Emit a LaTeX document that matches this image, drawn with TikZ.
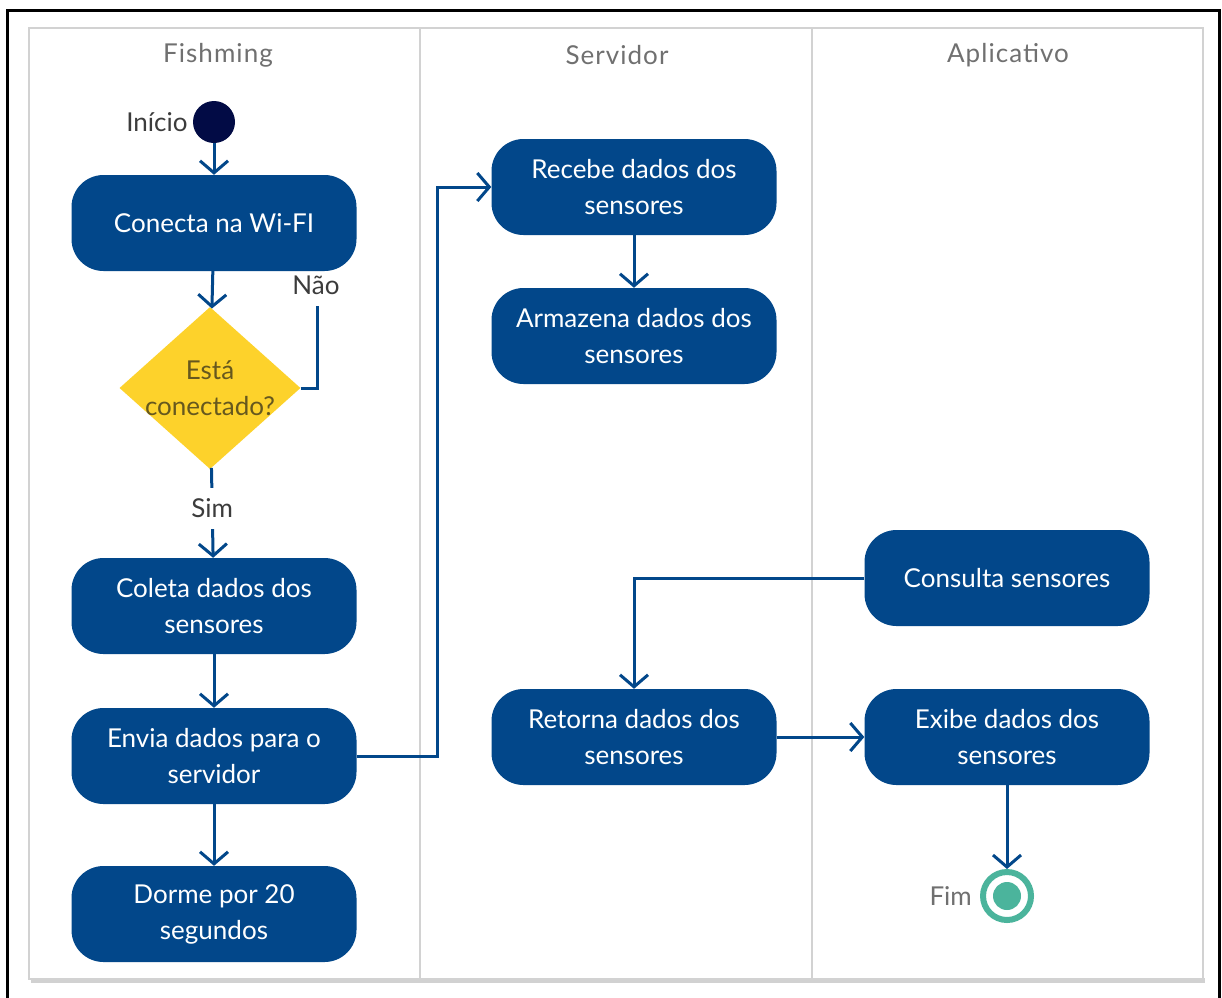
\documentclass[tikz,border=0pt]{standalone}
\usepackage{fontspec}
\setmainfont{Lato}
\newfontfamily\lanefont[LetterSpace=4]{Lato}
\usetikzlibrary{arrows.meta,shapes.geometric}
\definecolor{actblue}{HTML}{02478A}
\definecolor{decyellow}{HTML}{FDD22B}
\definecolor{dectext}{HTML}{66581E}
\definecolor{startnavy}{HTML}{020B45}
\definecolor{endgreen}{HTML}{4BB49C}
\definecolor{lanegray}{HTML}{707070}
\definecolor{notegray}{HTML}{3C3C3C}
\definecolor{boxgray}{HTML}{D2D2D2}
\begin{document}
\begin{tikzpicture}[x=1pt,y=-1pt,
  act/.style={rectangle, rounded corners=32pt, fill=actblue, text=white,
    minimum width=285pt, minimum height=96pt, inner sep=0pt, align=center,
    font=\fontsize{26}{36}\selectfont},
  flow/.style={draw=actblue, line width=3pt, -{Straight Barb[length=12pt,width=28pt]}},
  plainline/.style={draw=actblue, line width=3pt},
  lanetitle/.style={font=\lanefont\fontsize{26}{30}\selectfont, text=lanegray},
  note/.style={font=\fontsize{26}{30}\selectfont, text=notegray, inner sep=2pt}]
\useasboundingbox (0,0) rectangle (1222,997);
% outer frame, running past the lower edge
\begin{scope}
  \clip (0,0) rectangle (1222,997);
  \draw[line width=3pt] (7,1020) -- (7,10) -- (1219,10) -- (1219,1020);
\end{scope}
% swimlane box with soft shadow
\fill[black!18] (31,978) rectangle (1205,983);
\draw[draw=boxgray, fill=white, line width=1.2pt] (29,28) rectangle (1203,979);
\draw[draw=boxgray, line width=1.2pt] (420,28) -- (420,979);
\draw[draw=boxgray, line width=1.2pt] (812,28) -- (812,979);
\node[lanetitle] (laneA) at (218,55) {Fishming};
\node[lanetitle] (laneB) at (617,55) {Servidor};
\node[lanetitle] (laneC) at (1008,55) {Aplicativo};

% Fishming lane
\node[circle, fill=startnavy, minimum size=42pt, inner sep=0pt] (start) at (214,122) {};
\node[note, anchor=east] (inicio) at ([xshift=-3pt]start.west) {Início};
\node[act] (wifi) at (214,223) {Conecta na Wi-FI};
\node[diamond, fill=decyellow, minimum width=181pt, minimum height=162pt,
      inner sep=0pt] (dec) at (210,388) {};
\node[align=center, text=dectext, font=\fontsize{26}{36}\selectfont] (dectxt) at (dec) {Está\\conectado?};
\coordinate (naoend) at (317,306);
\node[note] (nao) at (316,285) {Não};
\node[act] (coleta) at (214,606) {Coleta dados dos\\sensores};
\node[act] (envia) at (214,756) {Envia dados para o\\servidor};
\node[act] (dorme) at (214,914) {Dorme por 20\\segundos};

% Servidor lane
\node[act] (recebe) at (634,187) {Recebe dados dos\\sensores};
\node[act] (armazena) at (634,336) {Armazena dados dos\\sensores};
\node[act] (retorna) at (634,737) {Retorna dados dos\\sensores};

% Aplicativo lane
\node[act] (consulta) at (1007,578) {Consulta sensores};
\node[act] (exibe) at (1007,737) {Exibe dados dos\\sensores};
\node[circle, draw=endgreen, line width=6pt, fill=white, minimum size=48pt, inner sep=0pt] (fim) at (1007,896) {};
\fill[endgreen] (fim) circle (14pt);
\node[note, text=lanegray, anchor=east] (fimtxt) at ([xshift=-6pt]fim.west) {Fim};

% control flow
\draw[flow] (start) -- (wifi);
\draw[flow] (wifi) -- (dec);
\draw[plainline] (dec.east) -| (naoend);
\draw[flow] (dec) -- node[pos=0.45, fill=white, note, inner ysep=11pt] (sim) {Sim} (coleta);
\draw[flow] (coleta) -- (envia);
\draw[flow] (envia) -- (dorme);
\draw[flow] (envia.east) -- ++(81,0) |- (recebe.west);
\draw[flow] (recebe) -- (armazena);
\draw[flow] (consulta.west) -| (retorna.north);
\draw[flow] (retorna) -- (exibe);
\draw[flow] (exibe) -- (fim);
\end{tikzpicture}
\end{document}
